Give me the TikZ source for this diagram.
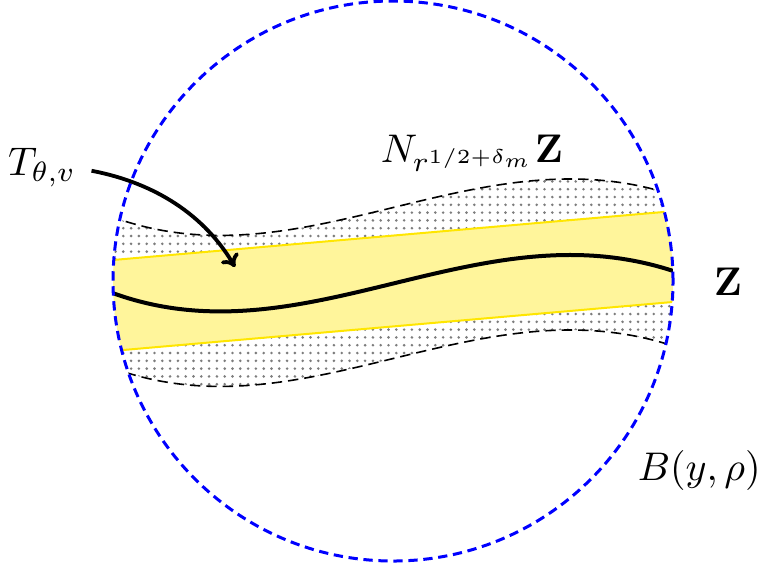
\documentclass[tikz,border=0pt]{standalone}
\usepackage{amsmath}
\usetikzlibrary{arrows.meta}
\definecolor{bandfill}{RGB}{255,245,155}
\definecolor{bandline}{RGB}{255,230,0}
\definecolor{dotgray}{RGB}{125,125,125}
\begin{document}
\begin{tikzpicture}[x=0.25pt,y=-0.25pt,
  ball/.style={draw=blue, line width=0.75pt, dash pattern=on 2.33pt off 1.42pt},
  nbhd/.style={draw=black, line width=0.4pt, dash pattern=on 2.6pt off 1.5pt},
  tube/.style={draw=bandline, line width=0.5pt},
  curveZ/.style={draw=black, line width=1pt},
  lbl/.style={inner sep=0pt},
  pointer/.style={draw=black, line width=0.95pt, -{To[length=3pt,width=5pt]}}]
\useasboundingbox (0,0) rectangle (757,570);

\begin{scope}
  \clip (393,281) circle [radius=70pt];
  % dotted neighbourhood
  \begin{scope}
    \clip (95,210) .. controls (300,299) and (480,119) .. (690,201)
      -- (690,352) .. controls (480,270) and (300,450) .. (95,361) -- cycle;
    \foreach \i in {-2,...,72}
      \foreach \j in {-8,...,20}
        \fill[dotgray] (123.3+7.8*\i, 236+7.8*\j) circle [radius=0.36pt];
  \end{scope}
  % tube
  \fill[bandfill] (90,262) -- (700,208.8) -- (700,299.6) -- (90,352.9) -- cycle;
  \draw[tube] (90,262) -- (700,208.8);
  \draw[tube] (90,352.9) -- (700,299.6);
  % dashed boundaries
  \draw[nbhd] (95,210) .. controls (300,299) and (480,119) .. (690,201);
  \draw[nbhd] (95,361) .. controls (300,450) and (480,270) .. (690,352);
  % curve Z
  \draw[curveZ] (95,286) .. controls (300,375) and (480,195) .. (690,277);
\end{scope}

\draw[ball] (393,281) circle [radius=70pt];

\node[lbl, anchor=east] (T) at (77,168) {$T_{\theta,v}$};
\node[lbl, anchor=base west] (N) at (380,162) {$N_{r^{1/2+\delta_m}}\mathbf{Z}$};
\node[lbl, anchor=base west] (Zl) at (713,295) {$\mathbf{Z}$};
\node[lbl, anchor=base west] (B) at (637,480) {$B(y,\rho)$};

\coordinate (tip) at (235,267);
\draw[pointer, shorten <=3.7pt] (T.east) .. controls (156,183) and (205,216) .. (tip);
\end{tikzpicture}
\end{document}
